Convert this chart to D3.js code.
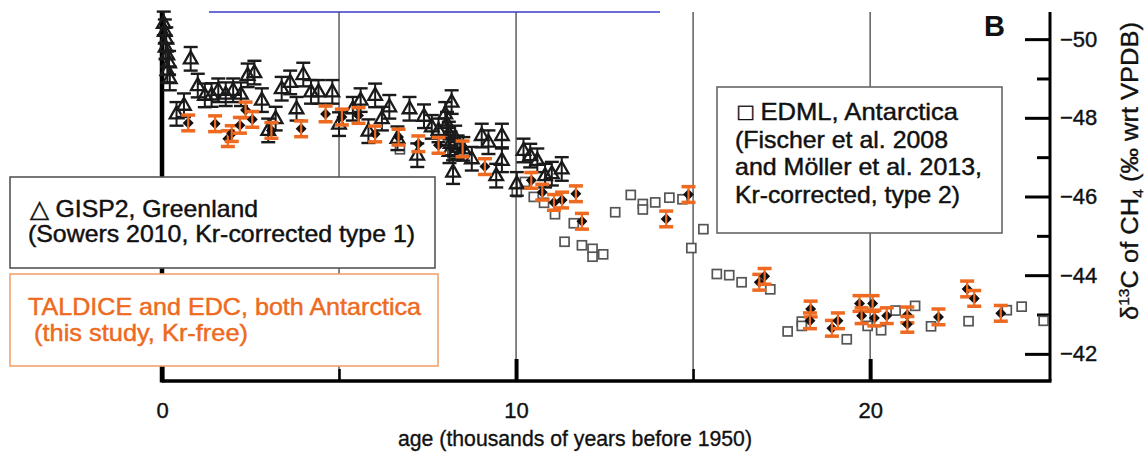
<!DOCTYPE html>
<html><head><meta charset="utf-8">
<script src="https://cdn.jsdelivr.net/npm/d3@7"></script>
<style>
body{margin:0;background:#fff;}
svg{display:block;font-family:"Liberation Sans",Arial,Helvetica,sans-serif;}
</style></head>
<body><svg id="c" width="1148" height="459"></svg>
<script>
// ---- data (age in kyr BP, d13C-CH4 in permil) ----
const gispAge = [0.05,0.08,0.12,0.10,0.15,0.20,0.15,0.22,0.41,0.62,0.81,1.01,1.21,1.40,1.59,1.80,2.01,2.23,2.42,2.61,2.82,3.00,3.21,3.38,3.62,3.80,3.99,4.21,4.42,4.81,5.00,5.39,5.61,5.83,6.02,6.21,6.42,6.65,6.99,7.21,7.40,7.62,7.81,8.00,8.05,8.10,8.15,8.18,8.12,8.22,8.28,8.35,8.51,8.75,9.03,9.22,9.44,9.60,9.60,10.02,10.21,10.40,10.60,10.82,11.01,11.29];
const gispD13C = [-50.40,-50.20,-50.00,-49.80,-49.60,-49.40,-49.20,-49.00,-48.10,-48.32,-49.50,-48.82,-48.57,-48.58,-48.70,-48.60,-48.70,-48.60,-49.08,-49.15,-48.45,-47.68,-47.98,-48.74,-48.90,-48.23,-49.10,-48.66,-48.66,-48.66,-47.84,-48.23,-48.45,-47.66,-48.57,-47.98,-48.28,-47.48,-48.23,-47.05,-48.04,-47.77,-47.68,-48.10,-47.85,-47.60,-47.35,-48.40,-47.15,-46.62,-47.50,-47.25,-47.21,-46.96,-47.55,-47.38,-46.53,-47.55,-46.92,-46.32,-47.17,-47.04,-46.92,-46.53,-46.58,-46.70];
const gispErr = 0.3;

const tdAge = [0.74,1.50,1.86,1.97,2.20,2.36,2.55,3.09,3.93,4.62,5.08,5.55,6.02,6.68,7.24,7.81,8.49,9.12,10.43,10.74,11.07,11.30,11.69,11.86,14.24,14.87,16.87,17.02,18.32,18.30,18.92,19.09,19.70,19.76,20.07,20.12,20.47,21.05,21.05,21.93,22.74,22.94,23.69];
const tdD13C = [-47.87,-47.85,-47.47,-47.60,-47.81,-48.20,-47.96,-47.68,-47.72,-48.10,-48.02,-48.06,-47.59,-47.51,-47.34,-47.30,-47.21,-46.76,-46.41,-46.11,-45.85,-45.91,-46.07,-45.37,-45.43,-46.05,-43.82,-43.97,-43.14,-42.84,-42.65,-42.84,-43.28,-42.97,-43.28,-42.91,-42.97,-42.99,-42.75,-42.94,-43.65,-43.41,-43.03];
const tdErr = 0.2;

const edmlAge = [6.72,8.20,10.02,10.25,10.50,10.79,11.10,11.37,11.63,11.86,12.16,12.16,12.46,12.80,13.24,13.58,13.58,13.93,14.33,14.70,14.95,15.29,15.67,16.02,16.37,17.18,17.67,18.07,18.07,19.34,19.93,20.31,20.72,21.27,21.72,22.78,23.86,24.28,24.90];
const edmlD13C = [-47.20,-47.10,-46.11,-46.37,-45.99,-45.84,-45.55,-44.85,-45.32,-44.76,-44.67,-44.47,-44.53,-45.60,-46.04,-45.81,-45.67,-45.85,-45.97,-45.93,-44.69,-45.17,-44.03,-44.00,-43.82,-43.64,-42.57,-42.82,-42.71,-42.37,-42.71,-42.60,-43.10,-43.22,-42.70,-42.83,-43.11,-43.20,-42.84];

const xMajorTicks = [0,10,20];
const xMinorTicks = [5,15];
const gridAges = [5,10,15,20];
const yMajorTicks = [-50,-48,-46,-44,-42];
const yMinorTicks = [-49,-47,-45,-43];

const xTitle = "age (thousands of years before 1950)";
const panelLabel = "B";

// ---- layout ----
const svg = d3.select("#c");
const L = 162, R = 1050, T = 12, B = 381;
const x = d3.scaleLinear().domain([0, 25.08]).range([L, R]);
const y = d3.scaleLinear().domain([-41.31, -50.69]).range([B, T]);
const ORANGE = "#ee6a20";

// top blue remnant line
svg.append("line").attr("x1",209).attr("x2",660).attr("y1",T).attr("y2",T)
  .attr("stroke","#3b3bc8").attr("stroke-width",1.5);

// vertical grid lines
svg.append("g").selectAll("line").data(gridAges).join("line")
  .attr("x1",d=>x(d)).attr("x2",d=>x(d)).attr("y1",T).attr("y2",B)
  .attr("stroke","#444").attr("stroke-width",1.3);

// x axis ticks
const gx = svg.append("g").attr("transform",`translate(0,${B})`);
gx.call(d3.axisBottom(x).tickValues(xMajorTicks).tickSize(-22).tickPadding(21).tickFormat(d3.format("d")))
  .call(g=>g.select(".domain").remove())
  .call(g=>g.selectAll("line").attr("stroke","#000").attr("stroke-width",4))
  .call(g=>g.selectAll("text").attr("font-size",22).attr("fill","#111").attr("stroke","#111").attr("stroke-width",0.4).attr("font-family","Liberation Sans, Arial, sans-serif"));
const gx2 = svg.append("g").attr("transform",`translate(0,${B})`);
gx2.call(d3.axisBottom(x).tickValues(xMinorTicks).tickSize(-12).tickFormat(""))
  .call(g=>g.select(".domain").remove())
  .call(g=>g.selectAll("line").attr("stroke","#000").attr("stroke-width",2.5));

// right axis
const gy = svg.append("g").attr("transform",`translate(${R},0)`);
gy.call(d3.axisRight(y).tickValues(yMajorTicks).tickSize(-25).tickPadding(10).tickFormat(d3.format("d")))
  .call(g=>g.select(".domain").remove())
  .call(g=>g.selectAll("line").attr("stroke","#000").attr("stroke-width",3))
  .call(g=>g.selectAll("text").attr("font-size",22).attr("fill","#111").attr("stroke","#111").attr("stroke-width",0.4).attr("font-family","Liberation Sans, Arial, sans-serif"));
const gy2 = svg.append("g").attr("transform",`translate(${R},0)`);
gy2.call(d3.axisRight(y).tickValues(yMinorTicks).tickSize(-13).tickFormat(""))
  .call(g=>g.select(".domain").remove())
  .call(g=>g.selectAll("line").attr("stroke","#000").attr("stroke-width",3));

// axis lines
svg.append("line").attr("x1",L).attr("x2",R+1.5).attr("y1",B).attr("y2",B).attr("stroke","#000").attr("stroke-width",3.5);
svg.append("line").attr("x1",R).attr("x2",R).attr("y1",T).attr("y2",B).attr("stroke","#000").attr("stroke-width",3);
svg.append("line").attr("x1",L).attr("x2",L).attr("y1",T).attr("y2",B+1.5).attr("stroke","#000").attr("stroke-width",4.5);

// EDML squares
const edml = edmlAge.map((a,i)=>({a, v:edmlD13C[i]}));
svg.append("g").selectAll("rect").data(edml).join("rect")
  .attr("x",d=>x(d.a)-4.5).attr("y",d=>y(d.v)-4.5).attr("width",9).attr("height",9)
  .attr("fill","#fff").attr("stroke","#555").attr("stroke-width",1.7);

// GISP2 triangles with error bars
const gisp = gispAge.map((a,i)=>({a, v:gispD13C[i]}));
const gg = svg.append("g").attr("stroke","#1a1a1a").attr("fill","none");
gisp.forEach(d=>{
  const cx = x(d.a), y0 = y(d.v - gispErr), y1 = y(d.v + gispErr);
  gg.append("line").attr("x1",cx).attr("x2",cx).attr("y1",y0).attr("y2",y1).attr("stroke-width",2);
  gg.append("line").attr("x1",cx-7).attr("x2",cx+7).attr("y1",y0).attr("y2",y0).attr("stroke-width",2.4);
  gg.append("line").attr("x1",cx-7).attr("x2",cx+7).attr("y1",y1).attr("y2",y1).attr("stroke-width",2.4);
  const cy = y(d.v);
  gg.append("path").attr("d",`M${cx},${cy-7.5}L${cx+6.8},${cy+4.5}L${cx-6.8},${cy+4.5}Z`).attr("stroke-width",2.3);
});

// TALDICE / EDC points
const td = tdAge.map((a,i)=>({a, v:tdD13C[i]}));
const tg = svg.append("g");
td.forEach(d=>{
  const cx = x(d.a), cy = y(d.v), y0 = y(d.v - tdErr), y1 = y(d.v + tdErr);
  tg.append("line").attr("x1",cx-7).attr("x2",cx+7).attr("y1",y0).attr("y2",y0).attr("stroke",ORANGE).attr("stroke-width",3.5);
  tg.append("line").attr("x1",cx-7).attr("x2",cx+7).attr("y1",y1).attr("y2",y1).attr("stroke",ORANGE).attr("stroke-width",3.5);
  tg.append("path").attr("d",`M${cx},${cy-5.5}L${cx+5.5},${cy}L${cx},${cy+5.5}L${cx-5.5},${cy}Z`).attr("fill","#111");
  tg.append("line").attr("x1",cx).attr("x2",cx).attr("y1",y0).attr("y2",y1).attr("stroke",ORANGE).attr("stroke-width",2.2);
});

// legend boxes
function box(x0,y0,w,h,stroke){
  svg.append("rect").attr("x",x0).attr("y",y0).attr("width",w).attr("height",h)
    .attr("fill","#fff").attr("stroke",stroke).attr("stroke-width",1.6);
}
function txt(s,x0,yb,len,color){
  svg.append("text").attr("x",x0).attr("y",yb).attr("font-size",24).attr("fill",color)
    .attr("stroke",color).attr("stroke-width",0.45)
    .attr("textLength",len).attr("lengthAdjust","spacingAndGlyphs").text(s);
}
box(10,177,425,91,"#555");
txt("\u25B3 GISP2, Greenland",30,217,228,"#111");
txt("(Sowers 2010, Kr-corrected type 1)",28,242,387,"#111");

box(10,274,428,92,"#f2a36e");
txt("TALDICE and EDC, both Antarctica",28,315,393,ORANGE);
txt("(this study, Kr-free)",34,341,214,ORANGE);

box(717,87,285,146,"#666");
txt("\u25A1 EDML, Antarctica",738,120,220,"#111");
txt("(Fischer et al. 2008",735,148,213,"#111");
txt("and M\u00F6ller et al. 2013,",735,175,247,"#111");
txt("Kr-corrected, type 2)",735,203,225,"#111");

// panel label
svg.append("text").attr("x",984).attr("y",36).attr("font-size",29).attr("font-weight","bold").attr("fill","#111").text(panelLabel);

// x title
svg.append("text").attr("x",575).attr("y",446).attr("text-anchor","middle").attr("font-size",22)
  .attr("fill","#111").attr("stroke","#111").attr("stroke-width",0.35)
  .attr("textLength",354).attr("lengthAdjust","spacingAndGlyphs").text(xTitle);

// y title (right)
const yt = svg.append("text").attr("transform","translate(1138,171) rotate(-90)")
  .attr("text-anchor","middle").attr("font-size",23).attr("fill","#111").attr("stroke","#111").attr("stroke-width",0.35)
  .attr("textLength",298).attr("lengthAdjust","spacingAndGlyphs");
yt.append("tspan").text("\u03B4");
yt.append("tspan").attr("font-size",14).attr("dy",-9).text("13");
yt.append("tspan").attr("dy",9).text("C of CH");
yt.append("tspan").attr("font-size",14).attr("dy",5).text("4");
yt.append("tspan").attr("dy",-5).text(" (\u2030 wrt VPDB)");
</script></body></html>
